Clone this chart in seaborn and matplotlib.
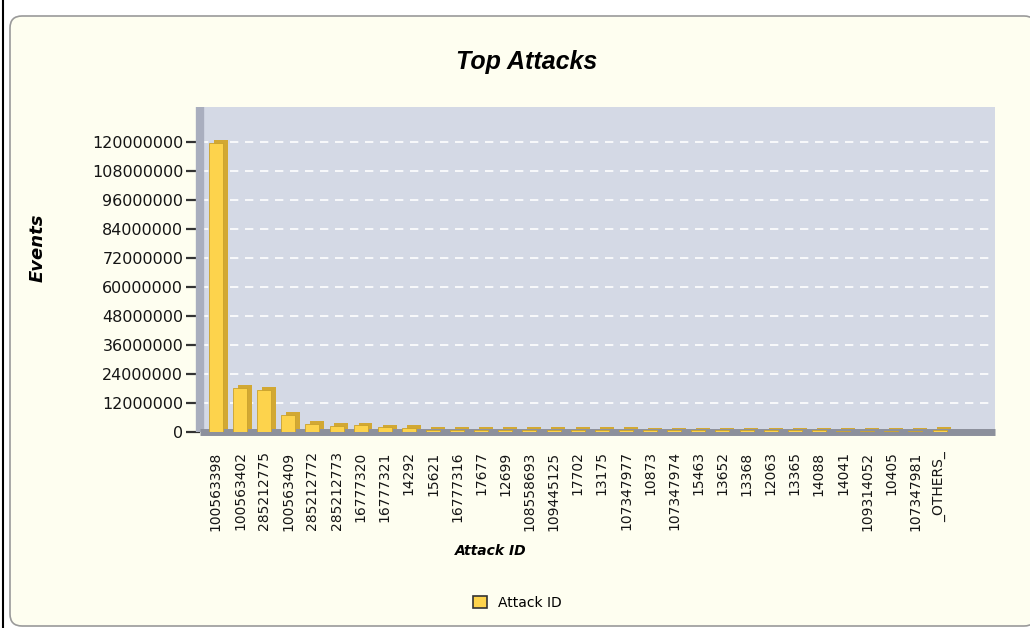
import matplotlib
matplotlib.use("Agg")
import matplotlib.pyplot as plt
import matplotlib.patheffects as pe
from matplotlib.patches import FancyBboxPatch, Patch
from matplotlib.lines import Line2D
import seaborn as sns
import pandas as pd

# ---- data ----
attack_ids = ["100563398", "100563402", "285212775", "100563409", "285212772",
              "285212773", "16777320", "16777321", "14292", "15621",
              "16777316", "17677", "12699", "108558693", "109445125",
              "17702", "13175", "107347977", "10873", "107347974",
              "15463", "13652", "13368", "12063", "13365",
              "14088", "14041", "109314052", "10405", "107347981", "_OTHERS_"]
events = [119500000, 18200000, 17300000, 7000000, 3400000,
          2600000, 2700000, 1900000, 1600000, 1000000,
          900000, 850000, 800000, 800000, 780000,
          760000, 740000, 720000, 700000, 690000,
          680000, 670000, 660000, 650000, 640000,
          630000, 620000, 610000, 600000, 590000, 800000]
ytick_values = [0, 12000000, 24000000, 36000000, 48000000, 60000000,
                72000000, 84000000, 96000000, 108000000, 120000000]

title = "Top Attacks"
xlabel = "Attack ID"
ylabel = "Events"
legend_label = "Attack ID"

df = pd.DataFrame({"Attack ID": attack_ids, "Events": events})

sns.set_theme(style="white")
plt.rcParams["font.family"] = ["DejaVu Sans"]
plt.rcParams["text.color"] = "black"

W, H, DPI = 1030, 628, 100
fig = plt.figure(figsize=(W / DPI, H / DPI), dpi=DPI, facecolor="white")

# background panel and border
panel = FancyBboxPatch((0.10, 0.02), 10.26, 6.10,
                       boxstyle="round,pad=0,rounding_size=0.12",
                       transform=fig.dpi_scale_trans,
                       facecolor="#FEFEF0", edgecolor="#9A9A9A", linewidth=1.2,
                       zorder=-5)
fig.patches.append(panel)
fig.lines.append(Line2D([0.03, 0.03], [0, H / DPI], transform=fig.dpi_scale_trans,
                        color="black", linewidth=1.5, zorder=-4))

# axes placement (pixels)
left, right, top, bottom = 200, 995, 107, 432
ax = fig.add_axes([left / W, 1 - bottom / H, (right - left) / W, (bottom - top) / H])
ax.set_facecolor("#D4D9E5")

bar_color = "#FDD34C"
sns.barplot(data=df, x="Attack ID", y="Events", color=bar_color, saturation=1,
            width=0.58, edgecolor="#C9A12C", linewidth=0.6, ax=ax, zorder=3)
for p in ax.patches:
    p.set_path_effects([pe.SimplePatchShadow(offset=(3.5, 2), shadow_rgbFace="#D2A833",
                                             alpha=1.0),
                        pe.Normal()])

ax.set_xlim(-0.66, len(attack_ids) + 1.3)
ax.set_ylim(0, 134500000)
ax.set_yticks(ytick_values)
ax.set_yticklabels([str(v) for v in ytick_values], fontsize=11.5, color="#151515")
ax.set_xticks(range(len(attack_ids)))
ax.set_xticklabels(attack_ids, rotation=90, fontsize=10, color="#151515",
                   va="top", ha="center")
ax.tick_params(axis="x", length=0, pad=14)
ax.tick_params(axis="y", length=10, width=1.6, color="#333333", pad=2, left=True)

for v in ytick_values[1:]:
    ax.axhline(v, color="white", linestyle=(0, (5, 4)), linewidth=1.2, zorder=1)

for s in ["top", "right"]:
    ax.spines[s].set_visible(False)
ax.spines["left"].set_color("#A9AEBE")
ax.spines["left"].set_linewidth(6)
ax.spines["left"].set_capstyle("butt")
ax.spines["bottom"].set_color("#8C909C")
ax.spines["bottom"].set_linewidth(5)
ax.spines["bottom"].set_capstyle("butt")

ax.set_xlabel(xlabel, fontsize=10, fontweight="bold", fontstyle="italic", color="black")
ax.xaxis.set_label_coords((491 - left) / (right - left), -(544 - bottom) / (bottom - top))
ax.set_ylabel(ylabel, fontsize=13, fontweight="bold", fontstyle="italic", color="black")
ax.yaxis.set_label_coords((47 - left) / (right - left), (bottom - 248) / (bottom - top))

fig.text(527 / W, 1 - 62 / H, title, ha="center", va="center",
         fontsize=18, fontweight="bold", fontstyle="italic", color="black",
         family=["Liberation Sans", "DejaVu Sans"])

handle = Patch(facecolor=bar_color, edgecolor="#333333", linewidth=1.2)
fig.legend([handle], [legend_label], loc="center",
           bbox_to_anchor=(517 / W, 1 - 603 / H), frameon=False,
           handlelength=1.0, handleheight=1.0, fontsize=10, handletextpad=0.8)

fig.savefig("out.png", dpi=DPI, facecolor="white")
